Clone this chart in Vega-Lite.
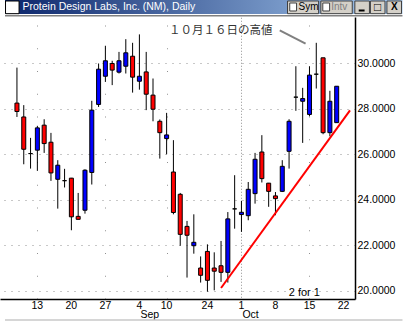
{
  "$schema": "https://vega.github.io/schema/vega-lite/v6.json",
  "width": 355,
  "height": 282,
  "autosize": {"type": "none"},
  "padding": {"left": 0, "top": 17, "right": 54, "bottom": 23},
  "background": "white",
  "config": {"view": {"stroke": null}, "font": "Liberation Sans"},
  "datasets": {
    "candles": [
      {"date": "2001-08-08", "j": 0, "o": 28.26, "h": 29.82, "l": 27.65, "c": 27.89},
      {"date": "2001-08-09", "j": 1, "o": 27.65, "h": 28.17, "l": 25.57, "c": 26.23},
      {"date": "2001-08-10", "j": 2, "o": 26.04, "h": 26.73, "l": 25.38, "c": 26.04},
      {"date": "2001-08-13", "j": 3, "o": 26.19, "h": 27.26, "l": 25.28, "c": 27.17},
      {"date": "2001-08-14", "j": 4, "o": 27.29, "h": 27.55, "l": 26.07, "c": 26.48},
      {"date": "2001-08-15", "j": 5, "o": 26.54, "h": 26.95, "l": 24.84, "c": 25.19},
      {"date": "2001-08-16", "j": 6, "o": 24.91, "h": 25.75, "l": 23.62, "c": 25.53},
      {"date": "2001-08-17", "j": 7, "o": 24.85, "h": 25.37, "l": 24.55, "c": 24.85},
      {"date": "2001-08-20", "j": 8, "o": 24.96, "h": 24.97, "l": 22.67, "c": 23.26},
      {"date": "2001-08-21", "j": 9, "o": 23.28, "h": 24.31, "l": 23.15, "c": 23.15},
      {"date": "2001-08-22", "j": 10, "o": 23.55, "h": 25.35, "l": 23.40, "c": 25.31},
      {"date": "2001-08-23", "j": 11, "o": 25.21, "h": 28.36, "l": 24.68, "c": 27.95},
      {"date": "2001-08-24", "j": 12, "o": 28.20, "h": 30.00, "l": 28.09, "c": 29.75},
      {"date": "2001-08-27", "j": 13, "o": 29.44, "h": 30.78, "l": 29.19, "c": 30.12},
      {"date": "2001-08-28", "j": 14, "o": 30.00, "h": 30.12, "l": 29.05, "c": 29.71},
      {"date": "2001-08-29", "j": 15, "o": 29.62, "h": 30.51, "l": 29.56, "c": 30.12},
      {"date": "2001-08-30", "j": 16, "o": 29.88, "h": 31.07, "l": 29.56, "c": 30.47},
      {"date": "2001-08-31", "j": 17, "o": 30.32, "h": 30.91, "l": 28.72, "c": 29.40},
      {"date": "2001-09-04", "j": 18, "o": 29.22, "h": 31.28, "l": 28.85, "c": 29.44},
      {"date": "2001-09-05", "j": 19, "o": 29.63, "h": 30.51, "l": 27.95, "c": 28.65},
      {"date": "2001-09-06", "j": 20, "o": 28.61, "h": 29.34, "l": 27.46, "c": 27.99},
      {"date": "2001-09-07", "j": 21, "o": 27.46, "h": 27.54, "l": 25.82, "c": 26.96},
      {"date": "2001-09-10", "j": 22, "o": 26.70, "h": 27.83, "l": 26.01, "c": 26.86},
      {"date": "2001-09-17", "j": 23, "o": 25.23, "h": 26.63, "l": 23.37, "c": 23.45},
      {"date": "2001-09-18", "j": 24, "o": 24.25, "h": 24.31, "l": 21.99, "c": 22.49},
      {"date": "2001-09-19", "j": 25, "o": 22.84, "h": 23.08, "l": 20.59, "c": 22.45},
      {"date": "2001-09-20", "j": 26, "o": 21.99, "h": 23.37, "l": 21.64, "c": 22.14},
      {"date": "2001-09-21", "j": 27, "o": 21.01, "h": 21.52, "l": 20.37, "c": 20.69},
      {"date": "2001-09-24", "j": 28, "o": 21.74, "h": 22.05, "l": 19.97, "c": 20.47},
      {"date": "2001-09-25", "j": 29, "o": 21.01, "h": 21.70, "l": 20.03, "c": 20.87},
      {"date": "2001-09-26", "j": 30, "o": 21.11, "h": 22.20, "l": 20.40, "c": 20.82},
      {"date": "2001-09-27", "j": 31, "o": 20.82, "h": 23.47, "l": 20.37, "c": 23.17},
      {"date": "2001-09-28", "j": 32, "o": 23.61, "h": 25.09, "l": 22.74, "c": 23.61},
      {"date": "2001-10-01", "j": 33, "o": 23.36, "h": 23.96, "l": 22.60, "c": 23.46},
      {"date": "2001-10-02", "j": 34, "o": 23.31, "h": 24.79, "l": 23.11, "c": 24.47},
      {"date": "2001-10-03", "j": 35, "o": 24.28, "h": 26.07, "l": 23.84, "c": 25.79},
      {"date": "2001-10-04", "j": 36, "o": 26.11, "h": 26.85, "l": 24.77, "c": 24.94},
      {"date": "2001-10-05", "j": 37, "o": 24.74, "h": 24.75, "l": 23.70, "c": 24.38},
      {"date": "2001-10-08", "j": 38, "o": 24.18, "h": 24.35, "l": 23.33, "c": 24.06},
      {"date": "2001-10-09", "j": 39, "o": 24.38, "h": 25.75, "l": 24.35, "c": 25.48},
      {"date": "2001-10-10", "j": 40, "o": 26.14, "h": 27.55, "l": 25.38, "c": 27.46},
      {"date": "2001-10-11", "j": 41, "o": 28.52, "h": 29.88, "l": 27.92, "c": 28.52},
      {"date": "2001-10-12", "j": 42, "o": 28.34, "h": 28.93, "l": 26.51, "c": 28.46},
      {"date": "2001-10-15", "j": 43, "o": 27.76, "h": 29.88, "l": 27.68, "c": 29.49},
      {"date": "2001-10-16", "j": 44, "o": 29.53, "h": 30.91, "l": 28.90, "c": 29.53},
      {"date": "2001-10-17", "j": 45, "o": 30.25, "h": 30.25, "l": 26.89, "c": 26.96},
      {"date": "2001-10-18", "j": 46, "o": 26.96, "h": 28.80, "l": 26.80, "c": 28.34},
      {"date": "2001-10-19", "j": 47, "o": 27.40, "h": 29.00, "l": 27.40, "c": 29.00}
    ],
    "weeks": [
      {"j": 3, "d": "13"}, {"j": 8, "d": "20"}, {"j": 13, "d": "27"},
      {"j": 18, "d": "4", "m": "Sep"}, {"j": 22, "d": "10"}, {"j": 28, "d": "24"},
      {"j": 33, "d": "1", "m": "Oct"}, {"j": 38, "d": "8"}, {"j": 43, "d": "15"}, {"j": 48, "d": "22"}
    ]
  },
  "layer": [
    {
      "data": {"name": "candles"},
      "mark": {"type": "rule", "color": "black", "strokeWidth": 1},
      "encoding": {
        "x": {"field": "j", "type": "quantitative",
          "scale": {"domain": [-1.757, 48.957], "nice": false, "zero": false},
          "axis": {"title": null, "orient": "bottom", "values": [3, 8, 13, 18, 22, 28, 33, 38, 43, 48],
            "labels": false, "ticks": false, "domain": true, "domainColor": "black", "domainWidth": 1.5,
            "grid": true, "gridColor": "#909090", "gridWidth": 1, "gridOpacity": 1,
            "gridDash": {"condition": {"test": "datum.value == 18 || datum.value == 33", "value": [1, 2]}, "value": [1, 21.75]},
            "gridDashOffset": 14.75}},
        "y": {"field": "l", "type": "quantitative",
          "scale": {"domain": [19.648, 32.044], "nice": false, "zero": false},
          "axis": {"title": null, "orient": "right", "values": [20, 22, 24, 26, 28, 30], "format": ".4f",
            "labelFont": "Liberation Sans", "labelFontSize": 10.5, "labelColor": "black", "labelPadding": 2,
            "labelBaseline": "middle", "labelFlush": false, "labelOverlap": false,
            "ticks": false, "domain": true, "domainColor": "black", "domainWidth": 1.5,
            "grid": true, "gridColor": "#909090", "gridWidth": 1, "gridOpacity": 1, "gridDash": [1, 6]}},
        "y2": {"field": "h"}
      }
    },
    {
      "data": {"name": "candles"},
      "mark": {"type": "bar", "width": 4, "stroke": "black", "strokeWidth": 1},
      "encoding": {
        "x": {"field": "j", "type": "quantitative"},
        "y": {"field": "o", "type": "quantitative"},
        "y2": {"field": "c"},
        "color": {"condition": {"test": "datum.c > datum.o", "value": "#0000ff"}, "value": "#ff0000"}
      }
    },
    {
      "data": {"values": [{"j": 30, "p": 20.13}, {"j": 48.957, "p": 27.94}]},
      "mark": {"type": "line", "color": "#ff0000", "strokeWidth": 2},
      "encoding": {
        "x": {"field": "j", "type": "quantitative"},
        "y": {"field": "p", "type": "quantitative"}
      }
    },
    {
      "data": {"name": "weeks"},
      "mark": {"type": "text", "align": "center", "baseline": "middle", "fontSize": 10.5, "color": "black"},
      "encoding": {
        "x": {"field": "j", "type": "quantitative"},
        "y": {"datum": 19.34, "type": "quantitative"},
        "text": {"field": "d"}
      }
    },
    {
      "data": {"name": "weeks"},
      "transform": [{"filter": "datum.m != null"}],
      "mark": {"type": "text", "align": "left", "baseline": "middle", "fontSize": 10.5, "color": "black", "dx": 1},
      "encoding": {
        "x": {"field": "j", "type": "quantitative"},
        "y": {"datum": 18.93, "type": "quantitative"},
        "text": {"field": "m"}
      }
    },
    {
      "data": {"values": [{"t": "１０月１６日の高値"}]},
      "mark": {"type": "text", "align": "center", "baseline": "middle", "font": "Noto Sans CJK JP", "fontSize": 11.5, "color": "#333333"},
      "encoding": {
        "x": {"datum": 29.96, "type": "quantitative"},
        "y": {"datum": 31.45, "type": "quantitative"},
        "text": {"field": "t"}
      }
    },
    {
      "data": {"values": [{}]},
      "mark": {"type": "rule", "color": "#808080", "strokeWidth": 2},
      "encoding": {
        "x": {"datum": 38.63, "type": "quantitative"},
        "x2": {"datum": 42.43},
        "y": {"datum": 31.46, "type": "quantitative"},
        "y2": {"datum": 30.87}
      }
    },
    {
      "data": {"values": [{"t": "2 for 1"}]},
      "mark": {"type": "text", "align": "center", "baseline": "middle", "fontSize": 11, "color": "black"},
      "encoding": {
        "x": {"datum": 42.24, "type": "quantitative"},
        "y": {"datum": 19.93, "type": "quantitative"},
        "text": {"field": "t"}
      }
    },
    {
      "data": {"values": [{}]},
      "mark": {"type": "rect", "color": {"gradient": "linear", "x1": 0, "y1": 0, "x2": 1, "y2": 0, "stops": [{"offset": 0, "color": "#0a246a"}, {"offset": 1, "color": "#a6caf0"}]}},
      "encoding": {
        "x": {"datum": -1.757, "type": "quantitative"},
        "x2": {"datum": 56.671},
        "y": {"datum": 32.791, "type": "quantitative"},
        "y2": {"datum": 32.176}
      }
    },
    {
      "data": {"values": [{}]},
      "mark": {"type": "rule", "color": "#808080", "strokeWidth": 1.5},
      "encoding": {
        "x": {"datum": -1.757, "type": "quantitative"},
        "x2": {"datum": 56.671},
        "y": {"datum": 32.10, "type": "quantitative"}
      }
    },
    {
      "data": {"values": [{}]},
      "mark": {"type": "rule", "color": "#c8c8c8", "strokeWidth": 1.5},
      "encoding": {
        "x": {"datum": -1.757, "type": "quantitative"},
        "x2": {"datum": 56.671},
        "y": {"datum": 18.725, "type": "quantitative"}
      }
    },
    {
      "data": {"values": [{}]},
      "mark": {"type": "rect", "fill": "white", "stroke": "black", "strokeWidth": 1},
      "encoding": {
        "x": {"datum": -1.68, "type": "quantitative"},
        "x2": {"datum": 0.31},
        "y": {"datum": 32.747, "type": "quantitative"},
        "y2": {"datum": 32.19}
      }
    },
    {
      "data": {"values": [{"t": "Protein Design Labs, Inc. (NM), Daily"}]},
      "mark": {"type": "text", "align": "left", "baseline": "middle", "fontSize": 10.5, "color": "white"},
      "encoding": {
        "x": {"datum": 0.814, "type": "quantitative"},
        "y": {"datum": 32.484, "type": "quantitative"},
        "text": {"field": "t"}
      }
    },
    {
      "data": {"values": [{}]},
      "mark": {"type": "rect", "fill": "#d4d0c8", "stroke": "#404040", "strokeWidth": 1},
      "encoding": {
        "x": {"datum": 39.771, "type": "quantitative"},
        "x2": {"datum": 44.343},
        "y": {"datum": 32.747, "type": "quantitative"},
        "y2": {"datum": 32.19}
      }
    },
    {
      "data": {"values": [{}]},
      "mark": {"type": "rect", "fill": "#d4d0c8", "stroke": "#404040", "strokeWidth": 1},
      "encoding": {
        "x": {"datum": 44.671, "type": "quantitative"},
        "x2": {"datum": 49.286},
        "y": {"datum": 32.747, "type": "quantitative"},
        "y2": {"datum": 32.19}
      }
    },
    {
      "data": {"values": [{}]},
      "mark": {"type": "rect", "fill": "#d4d0c8", "stroke": "#404040", "strokeWidth": 1},
      "encoding": {
        "x": {"datum": 49.671, "type": "quantitative"},
        "x2": {"datum": 51.814},
        "y": {"datum": 32.747, "type": "quantitative"},
        "y2": {"datum": 32.19}
      }
    },
    {
      "data": {"values": [{}]},
      "mark": {"type": "rect", "fill": "#d4d0c8", "stroke": "#404040", "strokeWidth": 1},
      "encoding": {
        "x": {"datum": 51.957, "type": "quantitative"},
        "x2": {"datum": 54.1},
        "y": {"datum": 32.747, "type": "quantitative"},
        "y2": {"datum": 32.19}
      }
    },
    {
      "data": {"values": [{}]},
      "mark": {"type": "rect", "fill": "#d4d0c8", "stroke": "#404040", "strokeWidth": 1},
      "encoding": {
        "x": {"datum": 54.386, "type": "quantitative"},
        "x2": {"datum": 56.529},
        "y": {"datum": 32.747, "type": "quantitative"},
        "y2": {"datum": 32.19}
      }
    },
    {
      "data": {"values": [{}]},
      "mark": {"type": "rect", "fill": "white", "stroke": "#404040", "strokeWidth": 1},
      "encoding": {
        "x": {"datum": 40.1, "type": "quantitative"},
        "x2": {"datum": 41.1},
        "y": {"datum": 32.659, "type": "quantitative"},
        "y2": {"datum": 32.308}
      }
    },
    {
      "data": {"values": [{}]},
      "mark": {"type": "rect", "fill": "white", "stroke": "#404040", "strokeWidth": 1},
      "encoding": {
        "x": {"datum": 44.96, "type": "quantitative"},
        "x2": {"datum": 45.96},
        "y": {"datum": 32.659, "type": "quantitative"},
        "y2": {"datum": 32.308}
      }
    },
    {
      "data": {"values": [{"t": "Sym"}]},
      "mark": {"type": "text", "align": "left", "baseline": "middle", "fontSize": 10, "color": "black"},
      "encoding": {
        "x": {"datum": 41.4, "type": "quantitative"},
        "y": {"datum": 32.47, "type": "quantitative"},
        "text": {"field": "t"}
      }
    },
    {
      "data": {"values": [{"t": "Intv"}]},
      "mark": {"type": "text", "align": "left", "baseline": "middle", "fontSize": 10, "color": "#808080"},
      "encoding": {
        "x": {"datum": 46.2, "type": "quantitative"},
        "y": {"datum": 32.47, "type": "quantitative"},
        "text": {"field": "t"}
      }
    },
    {
      "data": {"values": [{}]},
      "mark": {"type": "rule", "color": "black", "strokeWidth": 2},
      "encoding": {
        "x": {"datum": 50.24, "type": "quantitative"},
        "x2": {"datum": 51.1},
        "y": {"datum": 32.33, "type": "quantitative"}
      }
    },
    {
      "data": {"values": [{"t": "□"}]},
      "mark": {"type": "text", "align": "center", "baseline": "middle", "fontSize": 12, "color": "black"},
      "encoding": {
        "x": {"datum": 53.029, "type": "quantitative"},
        "y": {"datum": 32.47, "type": "quantitative"},
        "text": {"field": "t"}
      }
    },
    {
      "data": {"values": [{"t": "X"}]},
      "mark": {"type": "text", "align": "center", "baseline": "middle", "fontSize": 10, "fontWeight": "bold", "color": "black"},
      "encoding": {
        "x": {"datum": 55.457, "type": "quantitative"},
        "y": {"datum": 32.47, "type": "quantitative"},
        "text": {"field": "t"}
      }
    }
  ]
}
